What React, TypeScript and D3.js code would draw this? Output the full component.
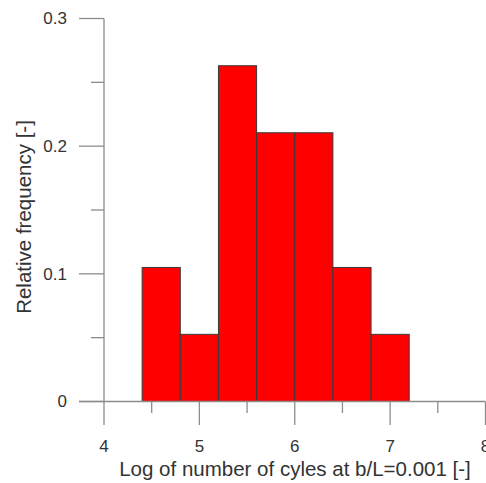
import React from "react";
import * as d3 from "d3";

const binEdges = [4.4, 4.8, 5.2, 5.6, 6.0, 6.4, 6.8, 7.2];
const frequencies = [0.105, 0.0526, 0.263, 0.2105, 0.2105, 0.105, 0.0526];
const xTicks = [4, 5, 6, 7, 8];
const xMinorTicks = [4.5, 5.5, 6.5, 7.5];
const yTicks = [0, 0.1, 0.2, 0.3];
const yMinorTicks = [0.05, 0.15, 0.25];
const xTitle = "Log of number of cyles at b/L=0.001 [-]";
const yTitle = "Relative frequency [-]";

export default function App() {
  const W = 486, H = 483;
  const x = d3.scaleLinear().domain([4, 8]).range([104, 485.5]);
  const y = d3.scaleLinear().domain([0, 0.3]).range([401.5, 18.5]);
  const axisColor = "#8c8c8c";
  const textColor = "#333";
  const font = "'Liberation Sans', Arial, sans-serif";
  return (
    <svg width={W} height={H} style={{ position: "absolute", left: 0, top: 0 }}>
      <rect width={W} height={H} fill="#fff" />
      {frequencies.map((f, i) => (
        <rect
          key={i}
          x={x(binEdges[i])}
          y={y(f)}
          width={x(binEdges[i + 1]) - x(binEdges[i])}
          height={y(0) - y(f)}
          fill="#ff0000"
          stroke="#3a3a3a"
          strokeWidth={1}
        />
      ))}
      {/* y axis */}
      <line x1={x(4)} x2={x(4)} y1={y(0.3)} y2={y(0)} stroke={axisColor} strokeWidth={1.3} />
      {yTicks.map((t) => (
        <g key={t}>
          <line x1={79} x2={x(4)} y1={y(t)} y2={y(t)} stroke={axisColor} strokeWidth={1.3} />
          <text x={67} y={y(t)} dy="0.35em" textAnchor="end" fontFamily={font} fontSize={17} fill={textColor}>
            {t === 0 ? "0" : t.toFixed(1)}
          </text>
        </g>
      ))}
      {yMinorTicks.map((t) => (
        <line key={t} x1={91} x2={x(4)} y1={y(t)} y2={y(t)} stroke={axisColor} strokeWidth={1.3} />
      ))}
      {/* x axis */}
      <line x1={79} x2={x(8)} y1={y(0)} y2={y(0)} stroke={axisColor} strokeWidth={1.3} />
      {xTicks.map((t) => (
        <g key={t}>
          <line x1={x(t)} x2={x(t)} y1={y(0)} y2={425} stroke={axisColor} strokeWidth={1.3} />
          <text x={x(t)} y={452} textAnchor="middle" fontFamily={font} fontSize={17} fill={textColor}>
            {t}
          </text>
        </g>
      ))}
      {xMinorTicks.map((t) => (
        <line key={t} x1={x(t)} x2={x(t)} y1={y(0)} y2={413} stroke={axisColor} strokeWidth={1.3} />
      ))}
      <text x={295} y={476} textAnchor="middle" fontFamily={font} fontSize={20.5} fill={textColor}>
        {xTitle}
      </text>
      <text
        transform={`translate(31,217) rotate(-90)`}
        textAnchor="middle"
        fontFamily={font}
        fontSize={20.5}
        fill={textColor}
      >
        {yTitle}
      </text>
    </svg>
  );
}
